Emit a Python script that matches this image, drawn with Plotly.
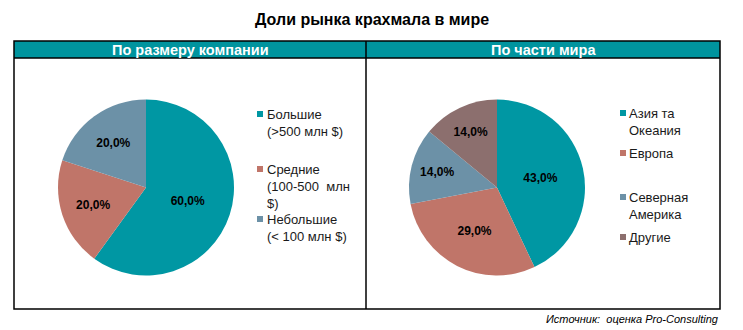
import plotly.graph_objects as go

W, H = 743, 330

title = "Доли рынка крахмала в мире"
header_left = "По размеру компании"
header_right = "По части мира"
source = "Источник:  оценка Pro-Consulting"

size_labels = ["Большие<br>(>500 млн $)", "Средние<br>(100-500  млн<br>$)", "Небольшие<br>(< 100 млн $)"]
size_values = [60.0, 20.0, 20.0]
size_colors = ["#0097a3", "#c07569", "#6c91a7"]

region_labels = ["Азия та<br>Океания", "Европа", "Северная<br>Америка", "Другие"]
region_values = [43.0, 29.0, 14.0, 14.0]
region_colors = ["#0097a3", "#c07569", "#6c91a7", "#8c6f6e"]

FONT = "Arial, Liberation Sans, sans-serif"


def px(x):
    return x / W


def py(y):
    return 1 - y / H


fig = go.Figure()

fig.add_trace(go.Pie(
    labels=size_labels, values=size_values, sort=False, direction="clockwise", rotation=0,
    marker=dict(colors=size_colors, line=dict(width=0)),
    texttemplate="%{value:.1f}%", textposition="inside", insidetextorientation="horizontal",
    textfont=dict(family=FONT, size=12, color="#000000", weight="bold"),
    domain=dict(x=[px(58), px(234)], y=[py(275.5), py(99.5)]),
    showlegend=False, hoverinfo="label+percent",
))

fig.add_trace(go.Pie(
    labels=region_labels, values=region_values, sort=False, direction="clockwise", rotation=0,
    marker=dict(colors=region_colors, line=dict(width=0)),
    texttemplate="%{value:.1f}%", textposition="inside", insidetextorientation="horizontal",
    textfont=dict(family=FONT, size=12, color="#000000", weight="bold"),
    domain=dict(x=[px(409), px(585)], y=[py(275.5), py(99.5)]),
    showlegend=False, hoverinfo="label+percent",
))

shapes = [
    dict(type="rect", xref="paper", yref="paper", x0=px(14), x1=px(720), y0=py(58), y1=py(41),
         fillcolor="#00949e", line=dict(width=0), layer="below"),
    dict(type="rect", xref="paper", yref="paper", x0=px(14), x1=px(720), y0=py(309), y1=py(41),
         fillcolor="rgba(0,0,0,0)", line=dict(color="#000000", width=1.5)),
    dict(type="line", xref="paper", yref="paper", x0=px(14), x1=px(720), y0=py(58), y1=py(58),
         line=dict(color="#000000", width=1.5)),
    dict(type="line", xref="paper", yref="paper", x0=px(366), x1=px(366), y0=py(309), y1=py(41),
         line=dict(color="#000000", width=1.5)),
]

annotations = [
    dict(text=f"<b>{title}</b>", xref="paper", yref="paper", x=px(372), y=py(20), showarrow=False,
         font=dict(family=FONT, size=16, color="#000000"), xanchor="center", yanchor="middle"),
    dict(text=f"<b>{header_left}</b>", xref="paper", yref="paper", x=px(190), y=py(49.5), showarrow=False,
         font=dict(family=FONT, size=14.5, color="#ffffff"), xanchor="center", yanchor="middle"),
    dict(text=f"<b>{header_right}</b>", xref="paper", yref="paper", x=px(543), y=py(49.5), showarrow=False,
         font=dict(family=FONT, size=14.5, color="#ffffff"), xanchor="center", yanchor="middle"),
    dict(text=f"<i>{source}</i>", xref="paper", yref="paper", x=px(721), y=py(319), showarrow=False,
         font=dict(family=FONT, size=11, color="#000000"), xanchor="right", yanchor="middle"),
]

# legends (keys built from the label and colour lists)
legend_font = dict(family=FONT, size=13, color="#1a1a1a")


def add_legend(labels, colors, key_x, text_x, first_line_ys):
    for lab, col, yc in zip(labels, colors, first_line_ys):
        shapes.append(dict(type="rect", xref="paper", yref="paper",
                           x0=px(key_x), x1=px(key_x + 6), y0=py(yc + 3), y1=py(yc - 3),
                           fillcolor=col, line=dict(width=0)))
        annotations.append(dict(text=lab, xref="paper", yref="paper", x=px(text_x), y=py(yc - 8.5),
                                xanchor="left", yanchor="top", align="left", showarrow=False,
                                font=legend_font, borderpad=0))


add_legend(size_labels, size_colors, 257, 266, [114, 169, 219])
add_legend(region_labels, region_colors, 620, 628, [113, 153, 197, 237])

fig.update_layout(
    width=W, height=H, margin=dict(l=0, r=0, t=0, b=0),
    paper_bgcolor="#ffffff", plot_bgcolor="#ffffff",
    separators=", ",
    shapes=shapes, annotations=annotations,
    showlegend=False,
)

fig.write_html("out.html")
